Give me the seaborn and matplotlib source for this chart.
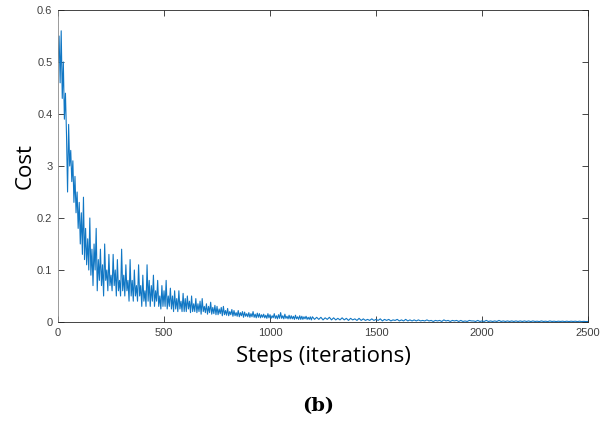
import numpy as np
import pandas as pd
import matplotlib
matplotlib.use('Agg')
import matplotlib.pyplot as plt
import seaborn as sns

# cost: every 5 steps up to 1195, then every 10 steps
cost_dense = [
    0.50, 0.55, 0.46, 0.56, 0.43, 0.50, 0.39, 0.44, 0.36, 0.25,
    0.38, 0.30, 0.33, 0.27, 0.31, 0.23, 0.28, 0.21, 0.25, 0.18,
    0.23, 0.15, 0.21, 0.13, 0.24, 0.12, 0.18, 0.11, 0.16, 0.10,
    0.20, 0.09, 0.14, 0.07, 0.15, 0.10, 0.18, 0.06, 0.12, 0.08,
    0.14, 0.07, 0.11, 0.05, 0.15, 0.08, 0.10, 0.06, 0.13, 0.07,
    0.09, 0.06, 0.13, 0.07, 0.10, 0.05, 0.12, 0.06, 0.08, 0.05,
    0.14, 0.06, 0.09, 0.05, 0.11, 0.06, 0.08, 0.04, 0.12, 0.05,
    0.08, 0.04, 0.10, 0.05, 0.07, 0.04, 0.11, 0.05, 0.07, 0.03,
    0.09, 0.04, 0.06, 0.03, 0.11, 0.04, 0.08, 0.03, 0.07, 0.04,
    0.09, 0.03, 0.06, 0.04, 0.08, 0.03, 0.05, 0.025, 0.07, 0.03,
    0.06, 0.03, 0.08, 0.025, 0.05, 0.03, 0.065, 0.025, 0.05, 0.02,
    0.06, 0.025, 0.045, 0.02, 0.06, 0.025, 0.04, 0.02, 0.055, 0.02,
    0.045, 0.02, 0.05, 0.025, 0.04, 0.018, 0.05, 0.02, 0.035, 0.02,
    0.045, 0.018, 0.035, 0.02, 0.04, 0.015, 0.045, 0.02, 0.03, 0.018,
    0.035, 0.015, 0.03, 0.018, 0.038, 0.015, 0.028, 0.016, 0.032, 0.014,
    0.03, 0.014, 0.025, 0.016, 0.028, 0.012, 0.03, 0.014, 0.022, 0.013,
    0.026, 0.012, 0.02, 0.014, 0.024, 0.011, 0.022, 0.012, 0.018, 0.011,
    0.022, 0.01, 0.018, 0.012, 0.02, 0.009, 0.019, 0.011, 0.016, 0.01,
    0.018, 0.009, 0.016, 0.01, 0.02, 0.009, 0.015, 0.008, 0.017, 0.009,
    0.016, 0.008, 0.014, 0.009, 0.015, 0.008, 0.013, 0.007, 0.016, 0.008,
    0.014, 0.007, 0.012, 0.008, 0.016, 0.007, 0.012, 0.006, 0.014, 0.007,
    0.018, 0.007, 0.012, 0.006, 0.015, 0.007, 0.011, 0.006, 0.013, 0.006,
    0.012, 0.006, 0.011, 0.005, 0.013, 0.006, 0.010, 0.005, 0.012, 0.005,
    0.011, 0.005, 0.010, 0.006, 0.011, 0.005, 0.009, 0.005, 0.010, 0.004,
]
cost_tail = [
    0.010, 0.005, 0.009, 0.005, 0.009, 0.004, 0.008, 0.005, 0.009, 0.004,
    0.008, 0.004, 0.007, 0.004, 0.008, 0.004, 0.007, 0.003, 0.007, 0.004,
    0.006, 0.003, 0.007, 0.003, 0.006, 0.003, 0.005, 0.003, 0.006, 0.003,
    0.005, 0.003, 0.006, 0.002, 0.005, 0.003, 0.005, 0.002, 0.004, 0.003,
    0.005, 0.002, 0.004, 0.002, 0.005, 0.002, 0.004, 0.002, 0.004, 0.002,
    0.004, 0.002, 0.003, 0.002, 0.004, 0.002, 0.003, 0.001, 0.003, 0.002,
    0.003, 0.001, 0.004, 0.002, 0.003, 0.001, 0.003, 0.002, 0.003, 0.001,
    0.003, 0.001, 0.002, 0.001, 0.003, 0.002, 0.002, 0.001, 0.003, 0.001,
    0.002, 0.001, 0.003, 0.001, 0.002, 0.001, 0.002, 0.001, 0.003, 0.001,
    0.002, 0.001, 0.002, 0.001, 0.002, 0.001, 0.002, 0.001, 0.002, 0.001,
    0.002, 0.001, 0.002, 0.0008, 0.002, 0.001, 0.0015, 0.0008, 0.002, 0.001,
    0.0015, 0.0008, 0.002, 0.001, 0.0015, 0.0008, 0.0015, 0.001, 0.0015, 0.0008,
    0.0015, 0.0008, 0.0015, 0.001, 0.0015, 0.0008, 0.0015, 0.0008, 0.0012, 0.0008,
    0.001,
]
steps_dense = np.arange(0, 1200, 5)
steps_tail = np.arange(1200, 2501, 10)

x_ticks = [0, 500, 1000, 1500, 2000, 2500]
y_ticks = [0, 0.1, 0.2, 0.3, 0.4, 0.5, 0.6]
y_tick_labels = ['0', '0.1', '0.2', '3', '0.4', '0.5', '0.6']

cost_df = pd.DataFrame({
    'step': np.concatenate([steps_dense, steps_tail]),
    'cost': cost_dense + cost_tail,
})

sns.set_style('white')
plt.rcParams['font.family'] = ['Liberation Sans', 'DejaVu Sans']

fig = plt.figure(figsize=(6.14, 4.30), dpi=100)
ax = fig.add_axes([0.0945, 0.2512, 0.8632, 0.7255])
sns.lineplot(data=cost_df, x='step', y='cost', ax=ax, color='#1177C4', linewidth=0.8)

ax.set_xlim(0, 2500)
ax.set_ylim(0, 0.6)
ax.set_xticks(x_ticks)
ax.set_xticklabels([str(t) for t in x_ticks])
ax.set_yticks(y_ticks)
ax.set_yticklabels(y_tick_labels)
ax.tick_params(direction='in', length=4, width=0.6, colors='#262626', labelcolor='#404040',
               labelsize=8, top=True, right=True, bottom=True, left=True, pad=4)
for spine in ax.spines.values():
    spine.set_color('#262626')
    spine.set_linewidth(0.6)
ax.spines['left'].set_color('#8a8a8a')

ax.set_xlabel('Steps (iterations)', fontsize=16, family='Open Sans', color='black', labelpad=6)
ax.set_ylabel('Cost', fontsize=16, family='Open Sans', color='black', labelpad=1)
fig.text(0.518, 0.055, '(b)', fontsize=14, family='DejaVu Serif', fontweight='bold',
         color='black', ha='center', va='center')

fig.savefig('out.png', dpi=100)
